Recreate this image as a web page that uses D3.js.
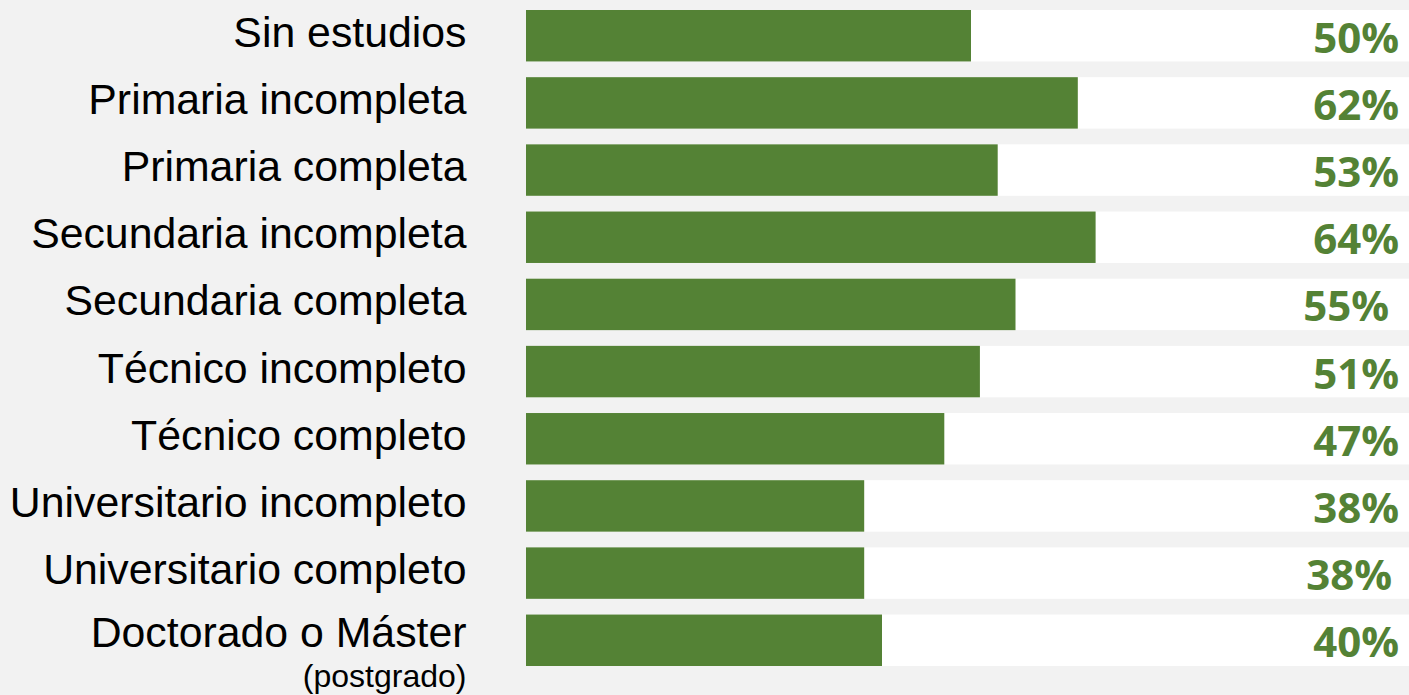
<!DOCTYPE html>
<html>
<head>
<meta charset="utf-8">
<script src="https://cdn.jsdelivr.net/npm/d3@7"></script>
<style>
  html, body { margin: 0; padding: 0; background: #f2f2f2; }
  svg { display: block; }
</style>
</head>
<body>
<svg id="chart"></svg>
<script>
const categories = [
  'Sin estudios',
  'Primaria incompleta',
  'Primaria completa',
  'Secundaria incompleta',
  'Secundaria completa',
  'Técnico incompleto',
  'Técnico completo',
  'Universitario incompleto',
  'Universitario completo',
  'Doctorado o Máster',
]
const subLabels = ['', '', '', '', '', '', '', '', '', '(postgrado)']
const values = [50, 62, 53, 64, 55, 51, 47, 38, 38, 40]

// small hand nudges seen in the original value labels
const labelNudge = [0, 0, 0, 0, -10, 0, 0, 0, -7, 0]

const canvasSize = { width: 1409, height: 695 }
const green = '#548235'

const svg = d3
  .select('#chart')
  .attr('width', canvasSize.width)
  .attr('height', canvasSize.height)

const x = d3.scaleLinear().domain([0, 100]).range([526, 1416])

const y = d3
  .scaleBand()
  .domain(categories)
  .range([10, 666])
  .paddingInner(0.234)
  .paddingOuter(0)

const rows = categories.map((name, i) => ({
  name,
  sub: subLabels[i],
  value: values[i],
  nudge: labelNudge[i],
}))

// white tracks
svg
  .selectAll('.track')
  .data(rows)
  .enter()
  .append('rect')
  .attr('class', 'track')
  .attr('x', x(0))
  .attr('y', (d) => y(d.name))
  .attr('width', x(100) - x(0))
  .attr('height', y.bandwidth())
  .style('fill', '#ffffff')

svg
  .selectAll('.bar')
  .data(rows)
  .enter()
  .append('rect')
  .attr('class', 'bar')
  .attr('x', x(0))
  .attr('y', (d) => y(d.name))
  .attr('width', (d) => x(d.value) - x(0))
  .attr('height', y.bandwidth())
  .style('fill', green)

// category labels
const labels = svg
  .selectAll('.label')
  .data(rows)
  .enter()
  .append('text')
  .attr('class', 'label')
  .attr('text-anchor', 'end')
  .attr('x', 466.5)
  .attr('y', (d) => y(d.name) + y.bandwidth() / 2 + (d.sub ? 7 : 11))
  .style('font-family', '"Liberation Sans", Arial, sans-serif')
  .style('font-size', '42.8px')
  .style('fill', '#000')
  .text((d) => d.name)

labels
  .filter((d) => d.sub)
  .append('tspan')
  .attr('x', 466.5)
  .attr('dy', 40)
  .style('font-size', '32px')
  .text((d) => d.sub)

// value labels
svg
  .selectAll('.value')
  .data(rows)
  .enter()
  .append('text')
  .attr('class', 'value')
  .attr('text-anchor', 'end')
  .attr('x', (d) => 1399 + d.nudge)
  .attr('y', (d) => y(d.name) + y.bandwidth() / 2 + 17)
  .style('font-family', '"Open Sans", sans-serif')
  .style('font-weight', 'bold')
  .style('font-size', '42px')
  .style('fill', green)
  .text((d) => `${d.value}%`)
</script>
</body>
</html>
